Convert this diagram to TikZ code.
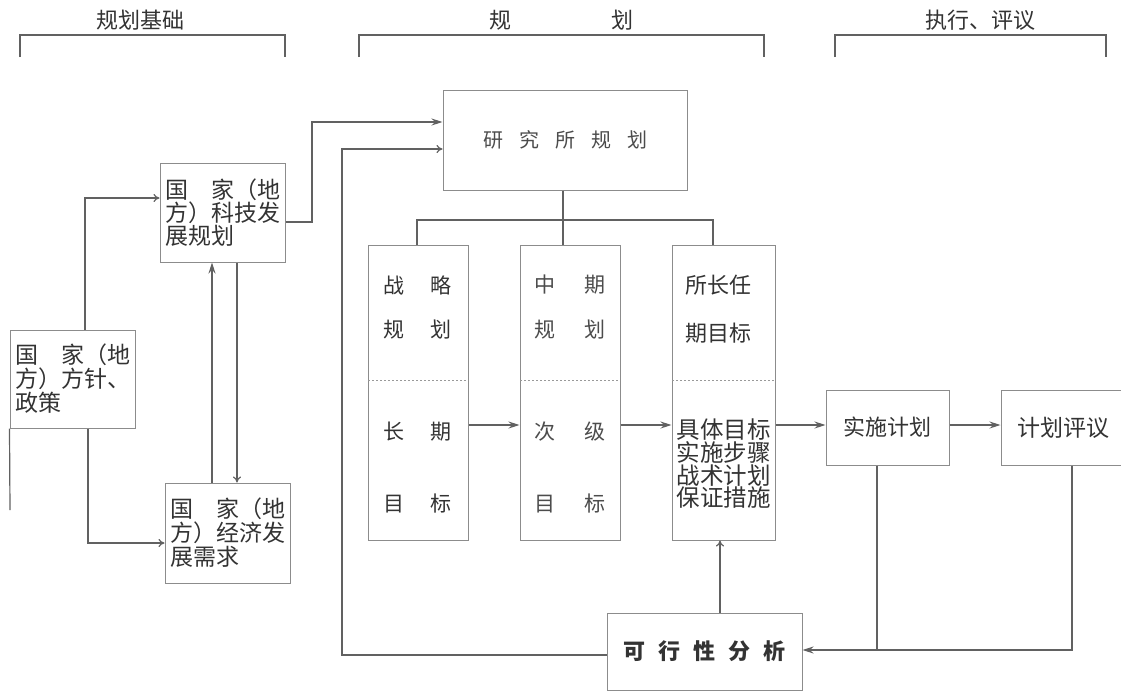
\documentclass[tikz,border=0pt]{standalone}
\usepackage{fontspec}
\setmainfont{Noto Sans CJK SC}
\usetikzlibrary{arrows.meta}
\newcommand{\fsz}[2]{\fontsize{#1}{#2}\selectfont}
\begin{document}
\begin{tikzpicture}[x=1pt,y=-1pt,
  box/.style={draw=black!45, line width=1pt, rectangle, inner sep=0pt, text=black!80},
  ln/.style={draw=black!62, line width=1.2pt},
  divline/.style={draw=black!40, line width=0.9pt, dash pattern=on 2pt off 2pt},
  arS/.style={ln, -{Stealth[length=11pt,width=7pt]}},
  arT/.style={ln, -{To[length=6pt,width=8pt]}},
  txt/.style={text=black!80, inner sep=0pt},
]
\useasboundingbox (0,0) rectangle (1121,694);
\fill[white] (0,0) rectangle (1121,694);

% headers
\node[txt, font=\fsz{22}{22}] (h1) at (140,20) {规划基础};
\node[txt, font=\fsz{22}{22}] (h2a) at (500,20) {规};
\node[txt, font=\fsz{22}{22}] (h2b) at (622,20) {划};
\node[txt, font=\fsz{22}{22}] (h3) at (980,20) {执行、评议};
\draw[ln] (20,57) -- (20,35) -- (285,35) -- (285,57);
\draw[ln] (359,57) -- (359,35) -- (764,35) -- (764,57);
\draw[ln] (835,57) -- (835,35) -- (1106,35) -- (1106,57);

% boxes
\node[box, minimum width=244pt, minimum height=100pt, font=\fsz{20}{20}, text=black!70] (yjs) at (565,140)
  {研\hspace{16pt}究\hspace{16pt}所\hspace{16pt}规\hspace{16pt}划};
\node[box, minimum width=125pt, minimum height=99pt, align=left, font=\fsz{23}{23}] (kj) at (222.5,212.5)
  {\hbox to 115pt{国\hfil 家（地}\\方）科技发\\展规划};
\node[box, minimum width=125pt, minimum height=98pt, align=left, font=\fsz{23}{24}] (fz) at (72.5,379)
  {\hbox to 115pt{国\hfil 家（地}\\方）方针、\\政策};
\node[box, minimum width=125pt, minimum height=100pt, align=left, font=\fsz{23}{24}] (jj) at (227.5,533)
  {\hbox to 115pt{国\hfil 家（地}\\方）经济发\\展需求};

\node[box, minimum width=100pt, minimum height=295pt] (zl) at (418,392.5) {};
\node[box, minimum width=100pt, minimum height=295pt] (zq) at (570,392.5) {};
\node[box, minimum width=103pt, minimum height=295pt] (sz) at (723.5,392.5) {};
\draw[divline] (368,380) -- (468,380);
\draw[divline] (520,380) -- (620,380);
\draw[divline] (672,380) -- (775,380);

\node[txt, font=\fsz{21}{21}] (zl1) at (417,285) {战\hspace{26pt}略};
\node[txt, font=\fsz{21}{21}] (zl2) at (417,330) {规\hspace{26pt}划};
\node[txt, font=\fsz{21}{21}] (zl3) at (417,432) {长\hspace{26pt}期};
\node[txt, font=\fsz{21}{21}] (zl4) at (417,503) {目\hspace{26pt}标};
\node[txt, font=\fsz{21}{21}, text=black!70] (zq1) at (570,285) {中\hspace{29pt}期};
\node[txt, font=\fsz{21}{21}, text=black!70] (zq2) at (570,330) {规\hspace{29pt}划};
\node[txt, font=\fsz{21}{21}, text=black!70] (zq3) at (570,432) {次\hspace{29pt}级};
\node[txt, font=\fsz{21}{21}, text=black!70] (zq4) at (570,503) {目\hspace{29pt}标};
\node[txt, font=\fsz{22}{22}] (sz1) at (718,285) {所长任};
\node[txt, font=\fsz{22}{22}] (sz2) at (718,333) {期目标};
\node[txt, font=\fsz{23.5}{22.7}, align=left] (sz3) at (723.5,464) {具体目标\\实施步骤\\战术计划\\保证措施};

\node[box, minimum width=123pt, minimum height=75pt, font=\fsz{22}{22}] (ss) at (887.5,427.5) {实施计划};
\node[box, minimum width=124pt, minimum height=75pt, font=\fsz{23}{23}] (pj) at (1063,427.5) {计划评议};
\node[box, minimum width=195pt, minimum height=77pt, font=\bfseries\fsz{22}{22}] (kx) at (704.5,651.5)
  {可\hspace{13pt}行\hspace{13pt}性\hspace{13pt}分\hspace{13pt}析};

% connectors
\coordinate (b1) at (312,222);
\coordinate (b2) at (312,122);
\draw[arS] (kj.east |- b1) -- (b1) -- (b2) -- (yjs.west |- b2);
\coordinate (b3) at (342,655);
\coordinate (b4) at (342,149);
\draw[arT] (kx.west |- b3) -- (b3) -- (b4) -- (yjs.west |- b4);
\coordinate (b5) at (85,198);
\draw[arT] (fz.north -| b5) -- (b5) -- (kj.west |- b5);
\coordinate (b6) at (88,543);
\draw[arT] (fz.south -| b6) -- (b6) -- (jj.west |- b6);
\coordinate (b7) at (10,510);
\draw[ln] (fz.south west) -- (b7);
\coordinate (b8) at (212,0);
\draw[arS] (jj.north -| b8) -- (kj.south -| b8);
\coordinate (b9) at (237,0);
\draw[arT] (kj.south -| b9) -- (jj.north -| b9);

\coordinate (b10) at (563,220);
\draw[ln] (yjs.south -| b10) -- (zq.north -| b10);
\coordinate (b11) at (417,220);
\coordinate (b12) at (713,220);
\draw[ln] (zl.north -| b11) -- (b11) -- (b12) -- (sz.north -| b12);

\coordinate (b13) at (0,425);
\draw[arS] (zl.east |- b13) -- (zq.west |- b13);
\draw[arS] (zq.east |- b13) -- (sz.west |- b13);
\draw[arS] (sz.east |- b13) -- (ss.west |- b13);
\draw[arS] (ss.east |- b13) -- (pj.west |- b13);

\coordinate (b14) at (720,0);
\draw[arT] (kx.north -| b14) -- (sz.south -| b14);
\coordinate (b15) at (877,650);
\coordinate (b16) at (1072,650);
\draw[ln] (ss.south -| b15) -- (b15);
\draw[arS] (pj.south -| b16) -- (b16) -- (kx.east |- b16);
\end{tikzpicture}
\end{document}
